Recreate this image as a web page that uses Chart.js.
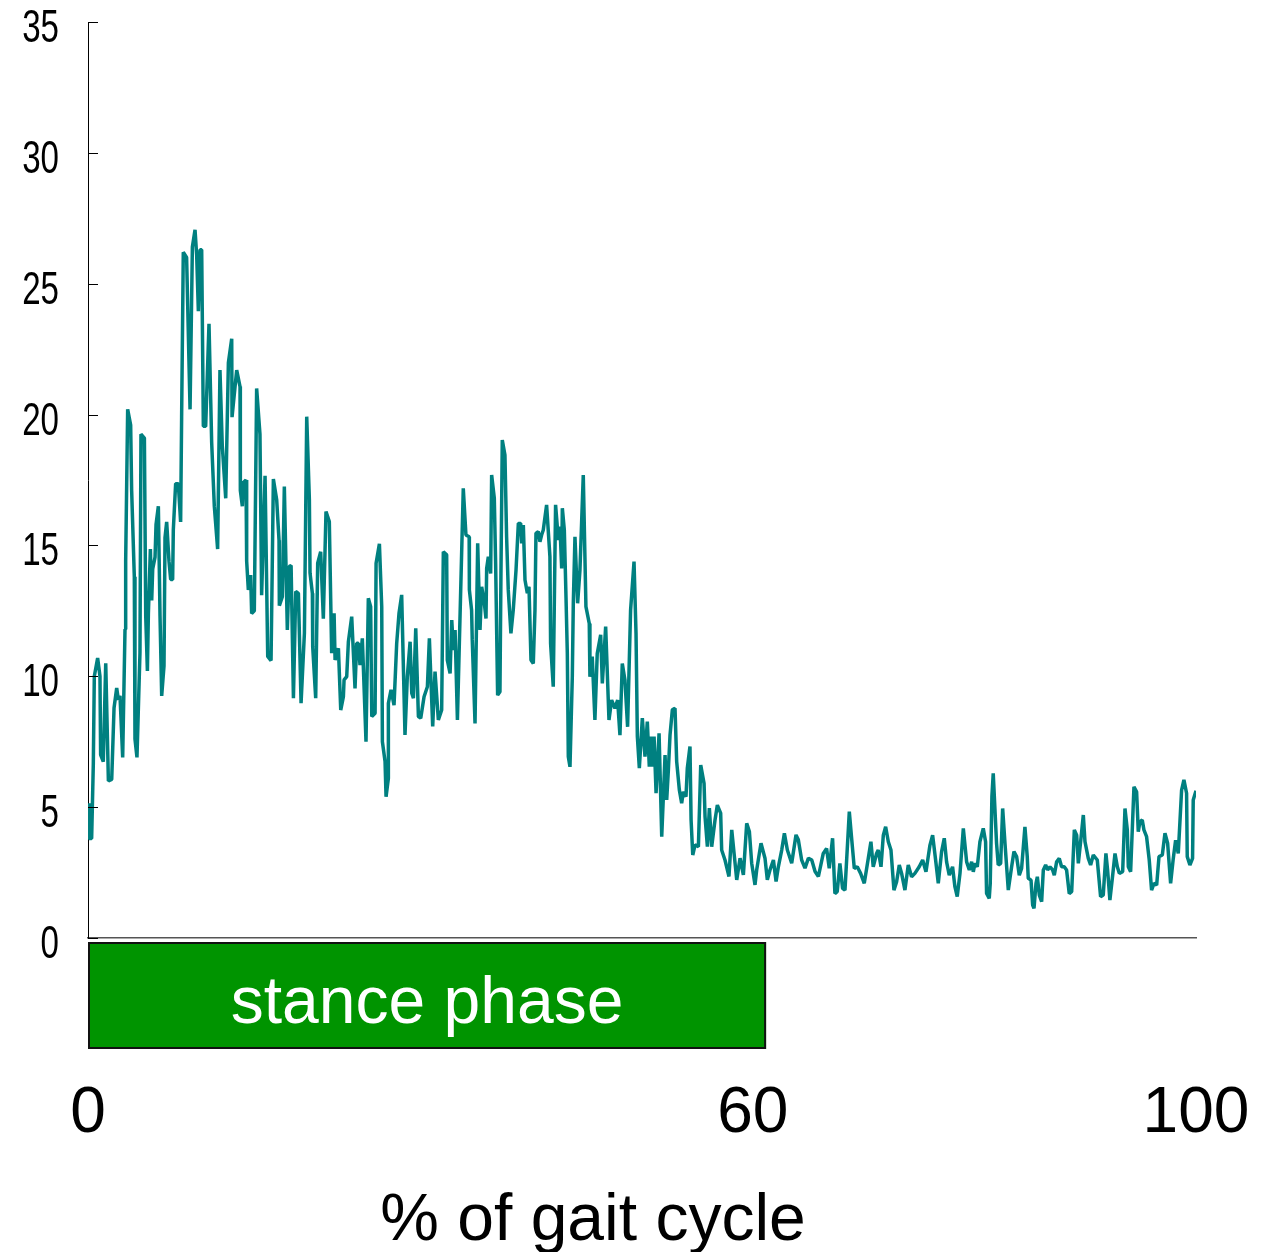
<!DOCTYPE html>
<html>
<head>
<meta charset="utf-8">
<style>
    html, body { margin: 0; padding: 0; background: #fff; }
    #wrap { width: 1274px; height: 1252px; }
</style>
<script src="https://cdn.jsdelivr.net/npm/chart.js@4.4.1/dist/chart.umd.min.js"></script>
</head>
<body>
<div id="wrap"><canvas id="gaitChart" width="1274" height="1252"></canvas></div>
<script>
// === DATA === [% of gait cycle, value]
const loadingPhase = [
    [0, 5.15], [0.09, 3.8], [0.33, 3.8], [0.48, 6.67], [0.57, 10.0], [0.87, 10.7], [1.08, 10.0], [1.14, 7.0],
    [1.38, 6.74], [1.6, 10.5], [1.84, 6.0], [2.14, 6.06], [2.35, 8.79], [2.59, 9.55], [2.74, 9.1], [2.89, 9.25],
    [3.13, 6.9], [3.34, 11.8], [3.4, 14.4], [3.58, 20.2], [3.85, 19.6], [3.94, 17.1], [4.18, 13.8], [4.24, 7.6],
    [4.42, 6.9], [4.69, 10.9], [4.78, 19.25], [5.09, 19.1], [5.21, 12.3], [5.36, 10.2], [5.45, 12.4], [5.63, 14.86],
    [5.75, 12.9], [5.84, 14.1], [6.05, 14.55], [6.14, 15.8], [6.35, 16.5], [6.5, 12.3], [6.65, 9.25], [6.86, 10.4],
    [6.95, 15.3], [7.1, 15.9], [7.31, 14.4], [7.46, 13.7], [7.64, 13.7], [7.7, 15.6], [7.91, 17.36], [8.15, 17.36],
    [8.36, 15.9], [8.45, 19.9], [8.6, 26.2], [8.9, 26.0], [9.21, 20.2], [9.42, 26.4], [9.66, 27.06], [9.81, 26.07],
    [9.96, 23.95], [10.11, 26.3], [10.26, 26.3], [10.41, 19.55], [10.62, 19.55], [10.92, 23.47], [11.16, 18.95],
    [11.4, 16.5], [11.7, 14.86], [11.91, 21.7], [12.12, 18.8], [12.43, 16.8], [12.67, 21.98], [12.97, 22.9],
    [13.0, 19.9], [13.42, 21.7], [13.72, 21.07], [13.75, 17.1], [13.93, 16.5], [14.02, 17.4], [14.26, 17.5],
    [14.32, 14.4], [14.47, 13.3], [14.68, 13.87], [14.77, 12.4], [15.01, 12.5], [15.22, 21.0], [15.52, 19.25],
    [15.67, 13.1], [15.98, 17.66], [16.22, 10.76], [16.52, 10.6]
];
const midStance = [
    [16.73, 17.54], [17.03, 16.74], [17.24, 15.2], [17.27, 12.7], [17.54, 13.04], [17.72, 17.25], [17.99, 11.77],
    [18.17, 14.2], [18.33, 14.23], [18.54, 9.16], [18.75, 13.24], [18.99, 13.17], [19.23, 8.97], [19.53, 11.64],
    [19.74, 19.92], [19.98, 16.74], [20.04, 13.94], [20.25, 13.17], [20.28, 11.13], [20.55, 9.16], [20.73, 14.32],
    [21.0, 14.76], [21.24, 12.2], [21.48, 16.29], [21.78, 15.91], [21.99, 10.88], [22.21, 12.41], [22.3, 10.62],
    [22.6, 11.07], [22.81, 8.71], [23.05, 9.22], [23.11, 9.86], [23.35, 9.99], [23.5, 11.32], [23.8, 12.28],
    [24.1, 9.54], [24.25, 11.26], [24.4, 11.26], [24.55, 10.43], [24.76, 11.45], [25.09, 7.5], [25.3, 12.98],
    [25.51, 12.66], [25.61, 8.46], [25.91, 8.59], [26.0, 14.32], [26.3, 15.06], [26.51, 12.66], [26.57, 7.5],
    [26.81, 6.74], [26.9, 5.4], [27.11, 6.1], [27.11, 8.97], [27.35, 9.48], [27.62, 8.9], [27.86, 11.26],
    [28.07, 12.41], [28.31, 13.11], [28.61, 7.76], [28.82, 9.99], [29.07, 11.32], [29.22, 9.35], [29.37, 9.16],
    [29.58, 11.83], [29.82, 8.46], [30.03, 8.4], [30.33, 9.22], [30.63, 9.6], [30.81, 11.45], [31.11, 8.08],
    [31.32, 10.18], [31.62, 8.33], [31.92, 8.71], [32.07, 14.76], [32.37, 14.64], [32.43, 10.62], [32.68, 10.11],
    [32.83, 12.15], [32.98, 11.0], [33.13, 11.77], [33.34, 8.33]
];
const terminalStance = [
    [33.87, 17.18], [34.11, 15.4], [34.4, 15.33], [34.42, 13.3], [34.62, 12.53], [34.68, 11.39], [34.93, 8.2],
    [35.17, 15.08], [35.38, 11.77], [35.53, 13.42], [35.74, 12.91], [35.92, 12.21], [35.98, 14.12], [36.13, 14.57],
    [36.34, 13.93], [36.43, 17.69], [36.67, 16.8], [36.79, 14.31], [36.97, 9.28], [37.18, 9.41], [37.27, 13.93],
    [37.39, 19.03], [37.63, 18.45], [37.78, 15.33], [37.93, 13.3], [38.17, 11.64], [38.38, 12.53], [38.63, 14.06],
    [38.84, 15.84], [39.05, 15.84], [39.14, 15.08], [39.29, 15.78], [39.44, 13.68], [39.65, 13.17], [39.8, 13.42],
    [39.98, 10.62], [40.19, 10.49], [40.34, 12.53], [40.43, 15.46], [40.64, 15.53], [40.79, 15.14], [40.94, 15.4],
    [41.09, 15.59], [41.39, 16.55], [41.69, 14.57], [41.75, 11.26], [41.99, 9.6], [42.2, 16.55], [42.45, 15.21],
    [42.6, 15.72], [42.75, 14.12], [42.81, 16.42], [42.99, 15.59], [43.14, 13.04], [43.26, 10.87], [43.35, 6.93],
    [43.5, 6.54], [43.71, 9.98], [43.8, 12.79], [43.95, 15.33], [44.19, 12.79], [44.4, 14.06], [44.7, 17.69],
    [44.94, 12.66], [45.24, 12.02], [45.3, 9.98], [45.51, 10.75], [45.75, 8.33], [45.96, 10.87], [46.27, 11.58],
    [46.42, 9.73], [46.72, 11.9], [47.02, 8.33], [47.26, 9.09], [47.56, 8.78], [47.8, 9.09], [48.01, 7.75],
    [48.22, 10.49], [48.46, 9.86], [48.7, 8.07], [48.97, 12.53], [49.28, 14.38]
];
const preSwing = [
    [49.46, 11.65], [49.58, 7.7], [49.76, 6.49], [50.03, 8.4], [50.27, 6.93], [50.48, 8.27], [50.66, 6.55],
    [50.82, 7.7], [50.94, 6.55], [51.09, 7.7], [51.27, 5.53], [51.54, 7.82], [51.78, 3.87], [52.08, 6.99],
    [52.23, 5.28], [52.38, 6.42], [52.53, 7.76], [52.74, 8.72], [52.98, 8.78], [53.13, 6.74], [53.37, 5.66],
    [53.58, 5.15], [53.73, 5.59], [53.97, 5.4], [54.09, 6.49], [54.33, 7.32], [54.43, 4.51], [54.58, 3.17],
    [54.79, 3.56], [55.09, 3.49], [55.3, 6.61], [55.6, 5.91], [55.69, 4.64], [55.9, 3.49], [56.08, 4.96],
    [56.29, 3.49], [56.59, 4.51], [56.8, 5.08], [57.1, 4.77], [57.19, 3.36], [57.49, 2.98], [57.85, 2.35],
    [58.1, 4.13], [58.25, 3.49], [58.55, 2.22], [58.85, 3.05], [59.15, 2.41], [59.45, 4.38], [59.69, 4.07],
    [59.9, 2.86], [60.2, 2.03], [60.35, 2.6], [60.74, 3.62], [61.1, 3.05], [61.31, 2.22], [61.55, 2.6],
    [61.86, 2.98], [62.1, 2.16], [62.31, 2.73], [62.61, 3.36], [62.85, 4.0], [63.12, 3.36], [63.51, 2.86],
    [63.9, 3.94], [64.11, 3.75], [64.41, 2.98], [64.71, 2.67], [65.02, 3.05], [65.32, 2.98], [65.62, 2.54],
    [65.92, 2.35]
];
const earlySwing = [
    [66.36, 3.23], [66.66, 3.42], [66.9, 2.66], [67.2, 3.81], [67.41, 1.7], [67.62, 1.77], [67.86, 2.85],
    [68.1, 1.9], [68.32, 1.83], [68.71, 4.83], [68.92, 3.81], [69.16, 2.66], [69.43, 2.72], [69.73, 2.47],
    [70.06, 2.09], [70.42, 3.04], [70.66, 3.68], [70.87, 2.72], [71.17, 3.23], [71.32, 3.36], [71.57, 2.72],
    [71.78, 3.93], [71.99, 4.25], [72.23, 3.68], [72.47, 3.36], [72.74, 1.83], [72.98, 2.15], [73.22, 2.79],
    [73.43, 2.47], [73.73, 1.83], [74.03, 2.79], [74.33, 2.34], [74.63, 2.47], [75.02, 2.72], [75.33, 2.98],
    [75.63, 2.53], [75.99, 3.55], [76.23, 3.93], [76.5, 2.98], [76.74, 2.09], [77.04, 3.3], [77.28, 3.81],
    [77.49, 2.91], [77.73, 2.4], [78.03, 2.72], [78.24, 1.96], [78.45, 1.58], [78.7, 2.47], [79.0, 4.19],
    [79.3, 2.91], [79.54, 2.6], [79.75, 2.91], [79.9, 2.53], [80.05, 2.85], [80.26, 2.72], [80.5, 3.68],
    [80.8, 4.19], [81.01, 3.68], [81.1, 1.7], [81.34, 1.51], [81.43, 2.09], [81.58, 5.4], [81.7, 6.29],
    [82.0, 3.62], [82.15, 2.79], [82.37, 2.85], [82.55, 4.95], [82.76, 3.62], [83.06, 1.83]
];
const lateSwing = [
    [83.36, 2.72], [83.57, 3.3], [83.81, 3.11], [84.05, 2.4], [84.26, 2.66], [84.56, 4.25], [84.77, 3.11],
    [84.86, 2.28], [85.11, 2.21], [85.26, 1.26], [85.38, 1.13], [85.56, 2.09], [85.68, 2.34], [85.86, 1.64],
    [86.07, 1.39], [86.22, 2.6], [86.43, 2.79], [86.61, 2.6], [86.82, 2.72], [87.06, 2.6], [87.21, 2.4],
    [87.42, 2.91], [87.66, 3.04], [87.87, 2.72], [88.11, 2.72], [88.32, 2.6], [88.56, 1.7], [88.78, 1.77],
    [89.02, 4.13], [89.23, 3.93], [89.38, 2.85], [89.62, 3.81], [89.83, 4.7], [89.98, 3.68], [90.28, 3.04],
    [90.49, 2.79], [90.73, 3.17], [91.09, 2.98], [91.39, 1.58], [91.63, 1.64], [91.87, 3.23], [92.02, 2.6],
    [92.23, 1.45], [92.48, 2.4], [92.69, 3.23], [92.9, 2.72], [93.08, 2.47], [93.38, 2.53], [93.59, 4.95],
    [93.8, 4.13], [93.89, 2.72], [94.1, 2.53], [94.4, 5.78], [94.64, 5.59], [94.79, 4.06], [94.94, 4.44],
    [95.15, 4.51], [95.3, 4.13], [95.54, 3.87], [95.78, 2.98], [95.99, 1.83], [96.21, 2.09], [96.45, 2.02],
    [96.66, 3.11], [96.96, 3.17], [97.2, 4.0], [97.44, 3.62], [97.71, 2.09], [97.95, 3.04], [98.16, 3.74],
    [98.4, 3.23], [98.7, 5.65], [98.91, 6.04], [99.15, 5.53], [99.21, 3.11], [99.45, 2.79], [99.69, 3.04],
    [99.75, 5.27], [100, 5.63]
];

const X_TICKS = [0, 60, 100];
const Y_TICKS = [0, 5, 10, 15, 20, 25, 30, 35];
const STANCE_END = 61.2;
const STANCE_LABEL = "stance phase";
const X_TITLE = "% of gait cycle";

// === CONFIG ===
const COLORS = {
    line: "#008080",
    stance: "#009400",
    axis: "#000000",
    baseline: "#555555",
};
const SANS = '"Liberation Sans", Arial, sans-serif';

const series = [...loadingPhase, ...midStance, ...terminalStance, ...preSwing, ...earlySwing, ...lateSwing]
    .map(([x, y]) => ({ x, y }));

// inward y ticks + narrow y labels, stance bar, x title
const gaitDecor = {
    id: "gaitDecor",
    afterDraw(chart) {
        const { ctx, chartArea, scales } = chart;
        const xs = scales.x;
        const ys = scales.y;
        ctx.save();

        ctx.strokeStyle = COLORS.axis;
        ctx.lineWidth = 1;
        ctx.fillStyle = "#000";
        ctx.font = "46px " + SANS;
        ctx.textAlign = "right";
        ctx.textBaseline = "middle";
        ys.ticks.forEach((t) => {
            const py = Math.round(ys.getPixelForValue(t.value)) + 0.5;
            ctx.beginPath();
            ctx.moveTo(chartArea.left, py);
            ctx.lineTo(chartArea.left + 10, py);
            ctx.stroke();
            // condensed digits like the original
            ctx.save();
            ctx.translate(chartArea.left - 29, py + 7);
            ctx.scale(0.72, 1);
            ctx.fillText(String(t.value), 0, 0);
            ctx.restore();
        });

        const x0 = xs.getPixelForValue(0);
        const x1 = xs.getPixelForValue(STANCE_END);
        const top = chartArea.bottom + 4;
        const h = 107;
        ctx.fillStyle = COLORS.stance;
        ctx.fillRect(x0, top, x1 - x0, h);
        ctx.strokeStyle = "#111";
        ctx.lineWidth = 2;
        ctx.strokeRect(x0 + 1, top + 1, x1 - x0 - 2, h - 2);

        ctx.fillStyle = "#fff";
        ctx.font = "66px " + SANS;
        ctx.textAlign = "center";
        ctx.textBaseline = "alphabetic";
        ctx.fillText(STANCE_LABEL, (x0 + x1) / 2, chartArea.bottom + 85);

        ctx.fillStyle = "#000";
        ctx.fillText(X_TITLE, 593, 1240);
        ctx.restore();
    },
};

new Chart(document.getElementById("gaitChart").getContext("2d"), {
    type: "line",
    data: {
        datasets: [
            {
                data: series,
                borderColor: COLORS.line,
                borderWidth: 3.5,
                borderJoinStyle: "bevel",
                pointRadius: 0,
                tension: 0,
                fill: false,
            },
        ],
    },
    options: {
        responsive: false,
        animation: false,
        devicePixelRatio: 1,
        layout: { padding: { top: 22, right: 78, bottom: 0, left: 0 } },
        plugins: {
            legend: { display: false },
            tooltip: { enabled: false },
        },
        scales: {
            x: {
                type: "linear",
                min: 0,
                max: 100,
                grid: { display: false, drawTicks: false },
                border: { display: true, color: COLORS.baseline, width: 1.5 },
                afterBuildTicks: (s) => {
                    s.ticks = X_TICKS.map((v) => ({ value: v }));
                },
                afterFit: (s) => {
                    s.height = 314;
                    s.paddingLeft = 0;
                    s.paddingRight = 0;
                },
                ticks: {
                    autoSkip: false,
                    maxRotation: 0,
                    padding: 138,
                    color: "#000",
                    font: { family: SANS, size: 64 },
                },
            },
            y: {
                min: 0,
                max: 35,
                grid: { display: false, drawTicks: false },
                border: { display: true, color: COLORS.axis, width: 1 },
                afterBuildTicks: (s) => {
                    s.ticks = Y_TICKS.map((v) => ({ value: v }));
                },
                afterFit: (s) => {
                    s.width = 88;
                    s.paddingTop = 0;
                    s.paddingBottom = 0;
                },
                ticks: { display: false },
            },
        },
    },
    plugins: [gaitDecor],
});
</script>
</body>
</html>
